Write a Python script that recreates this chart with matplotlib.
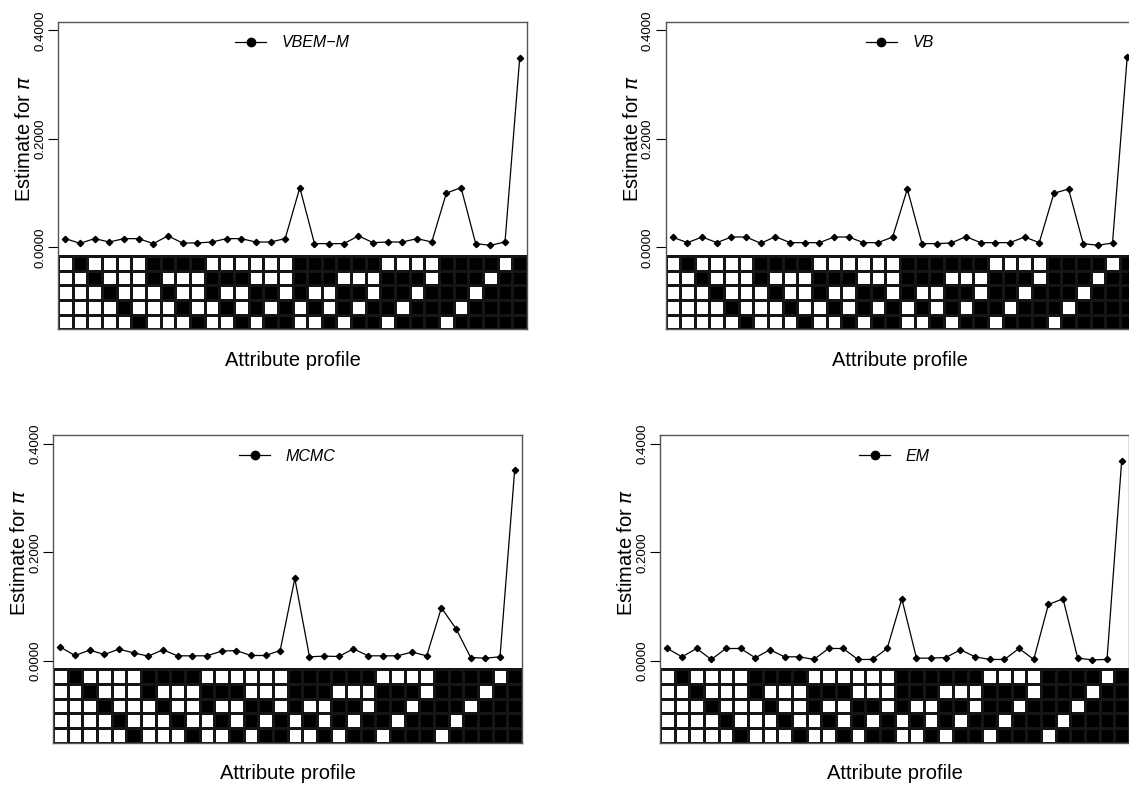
import numpy as np
import matplotlib.pyplot as plt
from matplotlib.colors import ListedColormap

plt.rcParams['font.family'] = ['Liberation Sans', 'DejaVu Sans']
plt.rcParams['mathtext.fontset'] = 'dejavusans'

# attribute profiles (5 attributes, 32 classes)
profiles = ["00000",
            "10000", "01000", "00100", "00010", "00001",
            "11000", "10100", "10010", "10001", "01100",
            "01010", "01001", "00110", "00101", "00011",
            "11100", "11010", "11001", "10110", "10101",
            "10011", "01110", "01101", "01011", "00111",
            "11110", "11101", "11011", "10111", "01111",
            "11111"]

# estimated class proportions per method
vbem_m = [0.016, 0.0074, 0.016, 0.0098, 0.016, 0.016, 0.0068, 0.021,
          0.008, 0.008, 0.0098, 0.016, 0.016, 0.0098, 0.0098, 0.016,
          0.110, 0.0068, 0.0068, 0.0068, 0.021, 0.0086, 0.0098, 0.0098,
          0.016, 0.0098, 0.100, 0.110, 0.0068, 0.0037, 0.0098, 0.3484]
vb = [0.0184, 0.0086, 0.019, 0.0086, 0.019, 0.019, 0.0074, 0.0197,
      0.0086, 0.0086, 0.0086, 0.019, 0.019, 0.0086, 0.0086, 0.019,
      0.1075, 0.0068, 0.0068, 0.008, 0.0197, 0.0086, 0.0086, 0.0086,
      0.019, 0.0086, 0.0995, 0.1075, 0.0068, 0.0037, 0.008, 0.350]
mcmc = [0.0252, 0.0098, 0.0197, 0.0117, 0.0215, 0.0147, 0.0086, 0.0203,
        0.0092, 0.0092, 0.0092, 0.0178, 0.019, 0.0098, 0.0098, 0.019,
        0.1518, 0.0074, 0.0086, 0.008, 0.0221, 0.0092, 0.0092, 0.0092,
        0.016, 0.0092, 0.0977, 0.059, 0.0061, 0.0049, 0.0074, 0.3515]
em = [0.0227, 0.0074, 0.0227, 0.0025, 0.0227, 0.0227, 0.0055, 0.0203,
      0.0074, 0.0074, 0.0025, 0.0227, 0.0227, 0.0025, 0.0025, 0.0227,
      0.1143, 0.0049, 0.0049, 0.0061, 0.0203, 0.0074, 0.0025, 0.0025,
      0.0227, 0.0025, 0.1038, 0.1143, 0.0049, 0.0018, 0.0025, 0.3687]

methods = ["VBEM\u2212M", "VB", "MCMC", "EM"]
estimates = [vbem_m, vb, mcmc, em]
yticks = [0.0, 0.2, 0.4]

W, H = 1129, 791
fig = plt.figure(figsize=(W / 100, H / 100), dpi=100)

# panel placement in pixels (left, top)
panel_px = [(58, 21.7), (665.5, 21.7), (53, 435.2), (660, 435.2)]
pw, ph = 469, 307.6

y_lo, y_hi = -0.1511, 0.4158
grid_top = -0.016
row_h = (grid_top - y_lo) / 5

mat = np.array([[int(c) for c in p] for p in profiles]).T  # 5 x 32
n = len(profiles)
x_edges = np.arange(n + 1)
y_edges = grid_top - np.arange(6) * row_h

for (left, top), name, vals in zip(panel_px, methods, estimates):
    ax = fig.add_axes([left / W, 1 - (top + ph) / H, pw / W, ph / H])
    ax.pcolormesh(x_edges, y_edges, mat, cmap=ListedColormap(['white', 'black']),
                  edgecolors='#151515', linewidth=0.9, vmin=0, vmax=1)
    x = np.arange(n) + 0.5
    ax.plot(x, vals, color='black', lw=0.9, marker='D', markersize=3.2)
    ax.set_xlim(0, n)
    ax.set_ylim(y_lo, y_hi)
    ax.set_xticks([])
    ax.set_yticks(yticks)
    ax.set_yticklabels(["%.4f" % v for v in yticks], rotation=90, va='center',
                       fontsize=9.5)
    ax.tick_params(axis='y', length=7, width=0.8, pad=1.5)
    for s in ax.spines.values():
        s.set_color('#555555')
        s.set_linewidth(1.0)
    ax.text(-28 / pw, 0.2, "Estimate for $\\pi$", rotation=90, fontsize=14.5,
            ha='center', va='baseline', rotation_mode='anchor',
            transform=ax.get_yaxis_transform())
    ax.text(0.5, -31 / ph, "Attribute profile", fontsize=14.5, ha='center',
            va='center', transform=ax.transAxes)
    h, = ax.plot([], [], color='black', lw=0.9, marker='o', markersize=6)
    ax.legend([h], [name], loc='center', bbox_to_anchor=(0.5, 1 - 21 / ph),
              frameon=False, handlelength=1.9, handletextpad=1.0,
              prop={'style': 'italic', 'size': 11.5})

fig.savefig("out.png", dpi=100)
